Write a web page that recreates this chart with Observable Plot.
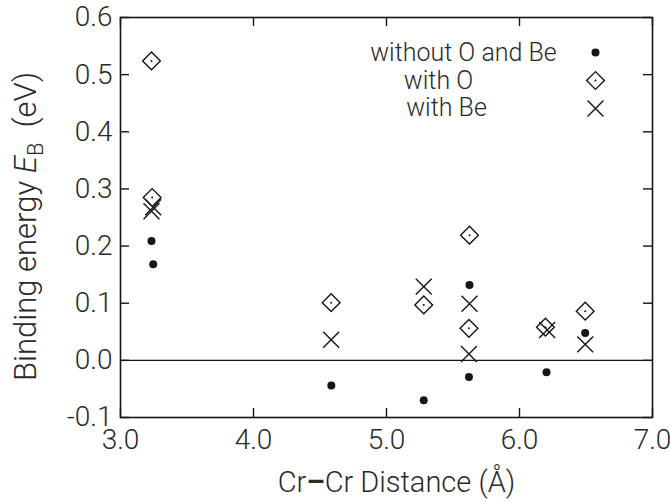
<!DOCTYPE html>
<html><head><meta charset="utf-8">
<script src="https://cdn.jsdelivr.net/npm/d3@7"></script>
<script src="https://cdn.jsdelivr.net/npm/@observablehq/plot@0.6"></script>
<style>body{margin:0;background:#fff} svg{display:block}</style>
</head><body><div id="chart"></div>
<script>
// ---- data ----
const xTicks = [3.0, 4.0, 5.0, 6.0, 7.0];
const yTicks = [-0.1, 0.0, 0.1, 0.2, 0.3, 0.4, 0.5, 0.6];
const seriesNames = ["without O and Be", "with O", "with Be"];
const xLabel = "Cr\u2013Cr Distance (\u00c5)";
const yLabelPlain = "Binding energy EB (eV)";

const plainX = [3.233, 3.246, 4.585, 5.280, 5.624, 5.620, 6.203, 6.494];
const plainY = [0.209, 0.168, -0.044, -0.070, 0.132, -0.029, -0.021, 0.048];

const withOX = [3.233, 3.238, 4.584, 5.280, 5.624, 5.620, 6.195, 6.494];
const withOY = [0.524, 0.285, 0.101, 0.097, 0.219, 0.056, 0.058, 0.086];

const withBeX = [3.233, 3.246, 4.584, 5.280, 5.624, 5.620, 6.208, 6.494];
const withBeY = [0.261, 0.268, 0.036, 0.129, 0.099, 0.011, 0.053, 0.028];

// ---- layout / style ----
const W = 670, H = 503, mL = 120, mR = 18, mT = 17, mB = 86;
const innerW = W - mL - mR, innerH = H - mT - mB;
const ink = "#161616";
const textInk = "#2a2a2a";
const font = "Roboto, 'Liberation Sans', Arial, sans-serif";
const tickLen = 9;

const rows = (xs, ys) => xs.map((x, i) => ({x, y: ys[i]}));
const plainData = rows(plainX, plainY);
const oData = rows(withOX, withOY);
const beData = rows(withBeX, withBeY);

const legendText = [
  {dx: -189, dy: 35},
  {dx: -214, dy: 63},
  {dx: -206, dy: 90}
];
const legendSym = {dx: -57, dy: [35, 63, 91]};

const marks = [
  Plot.frame({stroke: ink, strokeWidth: 1.6}),
  Plot.ruleY([0], {stroke: ink, strokeWidth: 1.4}),
  Plot.tickX(xTicks, {x: d => d, insetTop: innerH - tickLen, stroke: ink, strokeWidth: 1.4}),
  Plot.tickX(xTicks, {x: d => d, insetBottom: innerH - tickLen, stroke: ink, strokeWidth: 1.4}),
  Plot.tickY(yTicks, {y: d => d, insetRight: innerW - tickLen, stroke: ink, strokeWidth: 1.4}),
  Plot.tickY(yTicks, {y: d => d, insetLeft: innerW - tickLen, stroke: ink, strokeWidth: 1.4}),
  Plot.axisX({ticks: xTicks, tickSize: 0, tickPadding: 12, tickFormat: d => d.toFixed(1), label: null, fontSize: 28, fill: textInk}),
  Plot.axisY({ticks: yTicks, tickSize: 0, tickPadding: 8, tickFormat: d => d.toFixed(1), label: null, fontSize: 28, fill: textInk}),
  Plot.dot(plainData, {x: "x", y: "y", r: 4, fill: ink, stroke: null}),
  Plot.dot(oData, {x: "x", y: "y", symbol: "diamond2", r: 8, stroke: ink, strokeWidth: 1.4, fill: "none"}),
  Plot.dot(oData, {x: "x", y: "y", r: 1, fill: ink, stroke: null}),
  Plot.dot(beData, {x: "x", y: "y", symbol: "times", r: 7.3, stroke: ink, strokeWidth: 1.4}),
  // legend
  ...seriesNames.map((name, i) => Plot.text([name], {text: d => d, frameAnchor: "top-right", dx: legendText[i].dx, dy: legendText[i].dy, textAnchor: "middle", lineAnchor: "middle", fontSize: 25, fill: textInk})),
  Plot.dot([0], {frameAnchor: "top-right", dx: legendSym.dx, dy: legendSym.dy[0], r: 4, fill: ink, stroke: null}),
  Plot.dot([0], {frameAnchor: "top-right", dx: legendSym.dx, dy: legendSym.dy[1], symbol: "diamond2", r: 8, stroke: ink, strokeWidth: 1.4, fill: "none"}),
  Plot.dot([0], {frameAnchor: "top-right", dx: legendSym.dx, dy: legendSym.dy[1], r: 1, fill: ink, stroke: null}),
  Plot.dot([0], {frameAnchor: "top-right", dx: legendSym.dx, dy: legendSym.dy[2], symbol: "times", r: 7.3, stroke: ink, strokeWidth: 1.4}),
  // axis titles
  Plot.text([xLabel], {text: d => d, frameAnchor: "bottom", dx: 10, dy: 65, textAnchor: "middle", lineAnchor: "middle", fontSize: 29, fill: textInk}),
  Plot.text([yLabelPlain], {text: d => d, frameAnchor: "left", dx: -94, dy: 9, rotate: -90, textAnchor: "middle", lineAnchor: "middle", fontSize: 31, fill: textInk})
];

const svg = Plot.plot({
  width: W, height: H,
  marginLeft: mL, marginRight: mR, marginTop: mT, marginBottom: mB,
  x: {domain: [3, 7]},
  y: {domain: [-0.1, 0.6]},
  style: {fontFamily: font, fontSize: "26px", color: textInk, background: "#fff", fontWeight: 300},
  marks
});

// rich y label: italic E with subscript B
d3.select(svg).selectAll("text").filter(function() { return this.textContent === yLabelPlain; })
  .each(function() {
    const t = d3.select(this);
    t.text(null);
    t.append("tspan").text("Binding energy ");
    t.append("tspan").attr("font-style", "italic").text("E");
    t.append("tspan").attr("font-size", 22).attr("dy", 7).text("B");
    t.append("tspan").attr("dy", -7).text("\u00a0\u00a0(eV)");
  });

// heavier dash in the x label
d3.select(svg).selectAll("text").filter(function() { return this.textContent === xLabel; })
  .each(function() {
    const t = d3.select(this);
    const [a, b] = xLabel.split("\u2013");
    t.text(null);
    t.append("tspan").text(a);
    t.append("tspan").attr("font-weight", 700).text("\u2013");
    t.append("tspan").text(b);
  });

document.getElementById("chart").appendChild(svg);
</script>
</body></html>
